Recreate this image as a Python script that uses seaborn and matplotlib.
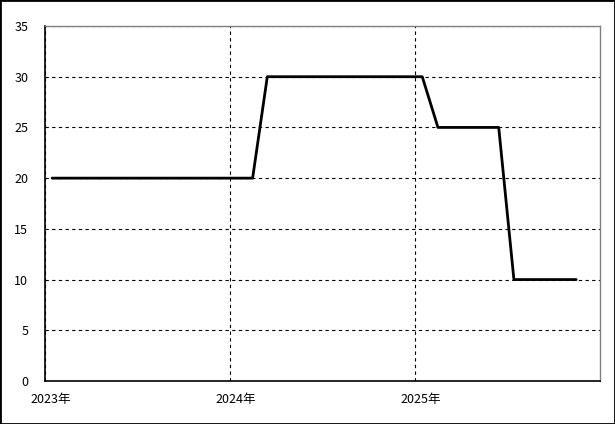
import matplotlib
matplotlib.use("Agg")
import matplotlib.pyplot as plt
import matplotlib.transforms as mtransforms
from matplotlib.patches import Rectangle
import seaborn as sns
import pandas as pd

# ---- data ----
months = pd.date_range("2023-01-01", periods=35, freq="MS") + pd.Timedelta(days=14)
values = [20, 20, 20, 20, 20, 20, 20, 20, 20, 20, 20, 20,   # 2023
          20, 20, 30, 30, 30, 30, 30, 30, 30, 30, 30, 30,   # 2024
          30, 25, 25, 25, 25, 25, 10, 10, 10, 10, 10]       # 2025
year_ticks = ["2023-01-01", "2024-01-01", "2025-01-01"]
year_labels = ["2023年", "2024年", "2025年"]
y_ticks = [0, 5, 10, 15, 20, 25, 30, 35]

df = pd.DataFrame({"date": months, "value": values})

sns.set_theme(style="white")
plt.rcParams["font.family"] = ["Noto Sans CJK JP", "DejaVu Sans"]

fig = plt.figure(figsize=(6.15, 4.24), dpi=100)
W, H = 615, 424
ax = fig.add_axes([45 / W, (H - 381) / H, (600 - 45) / W, (381 - 26) / H])

sns.lineplot(data=df, x="date", y="value", ax=ax, color="black", linewidth=2, zorder=3)

ax.set_xlim(pd.Timestamp("2023-01-01"), pd.Timestamp("2026-01-01"))
ax.set_ylim(0, 35)
ax.set_xticks(pd.to_datetime(year_ticks))
ax.set_xticklabels(year_labels)
ax.set_yticks(y_ticks)
ax.set_yticklabels([str(v) for v in y_ticks])
ax.set_xlabel("")
ax.set_ylabel("")

ax.grid(True, color="black", linestyle=(0, (3, 3)), linewidth=0.8)
ax.tick_params(axis="both", length=0, labelsize=9, colors="black")
ax.tick_params(axis="x", pad=9)
ax.tick_params(axis="y", pad=12)

off = mtransforms.ScaledTranslation(6 / 100, 0, fig.dpi_scale_trans)
for lbl in ax.get_xticklabels():
    lbl.set_transform(lbl.get_transform() + off)

for s in ["left", "bottom"]:
    ax.spines[s].set_color("black")
    ax.spines[s].set_linewidth(1.2)
for s in ["top", "right"]:
    ax.spines[s].set_color("#808080")
    ax.spines[s].set_linewidth(1.0)

fig.patches.append(Rectangle((0, 0), 1, 1, transform=fig.transFigure, fill=False,
                             edgecolor="black", linewidth=2, zorder=10))

fig.savefig("out.png", dpi=100, facecolor="white")
